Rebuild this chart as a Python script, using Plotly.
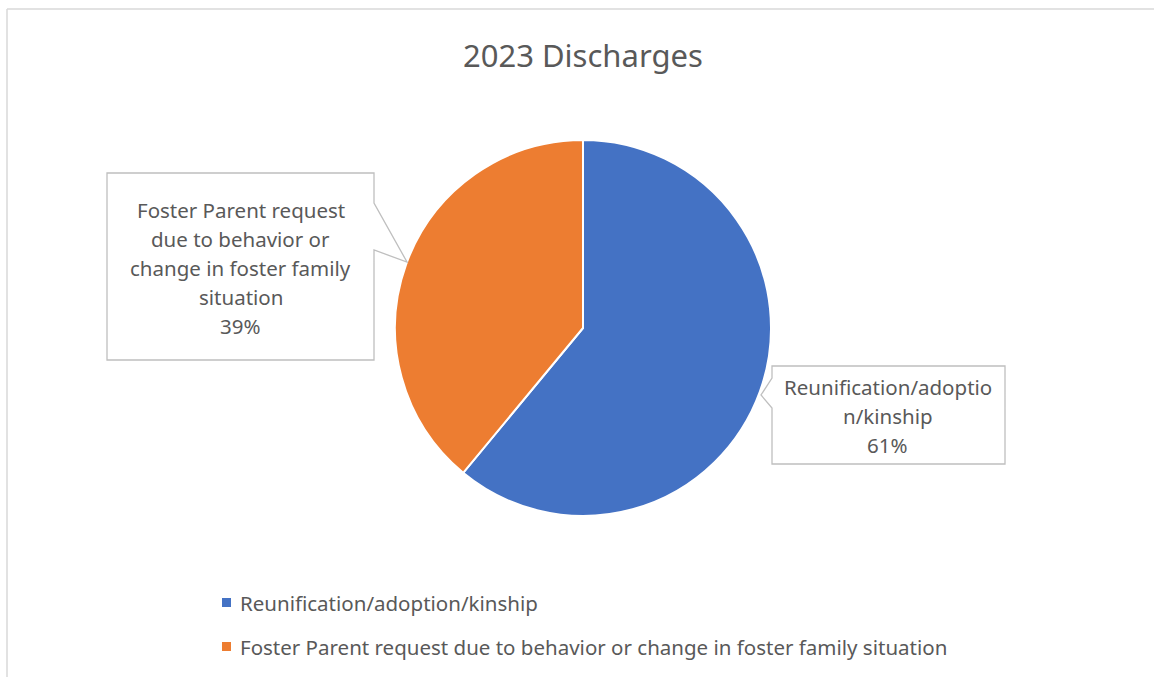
import plotly.graph_objects as go

# Discharge reasons for 2023 and their share of all discharges
categories = [
    "Reunification/adoption/kinship",
    "Foster Parent request due to behavior or change in foster family situation",
]
values = [61, 39]
colors = ["#4472C4", "#ED7D31"]

# Wrapped wording used inside the callout boxes
callout_lines = [
    ["Reunification/adoptio", "n/kinship"],
    ["Foster Parent request", "due to behavior or", "change in foster family", "situation"],
]

title_text = "2023 Discharges"

W, H = 1154, 677
FONT = "Noto Sans"
TEXT_COLOR = "#595959"


def px(x):
    return x / W


def py(y):
    return 1 - y / H


# Pie geometry in pixels
cx, cy, r = 583, 328, 188

fig = go.Figure(
    go.Pie(
        labels=categories,
        values=values,
        marker=dict(colors=colors, line=dict(color="white", width=2)),
        sort=False,
        direction="clockwise",
        rotation=0,
        textinfo="none",
        hoverinfo="label+percent",
        showlegend=False,
        domain=dict(x=[px(cx - r), px(cx + r)], y=[py(cy + r), py(cy - r)]),
    )
)

total = sum(values)
pct = [round(100 * v / total) for v in values]

shapes = []
annotations = []

# Callout boxes: outline, pointer base on one side, pointer tip, text centre
boxes = [
    dict(l=772, t=366, r=1005, b=464, side="left", p0=378, p1=408, tx=761, ty=395, cx=888, y0=387),
    dict(l=107, t=173, r=374, b=360, side="right", p0=203, p1=250, tx=407, ty=262, cx=241, y0=210),
]
line_h = 29

for i, bx in enumerate(boxes):
    l, t, rr, b = bx["l"], bx["t"], bx["r"], bx["b"]
    if bx["side"] == "left":
        pts = [(l, t), (rr, t), (rr, b), (l, b), (l, bx["p1"]), (bx["tx"], bx["ty"]), (l, bx["p0"])]
    else:
        pts = [(l, t), (rr, t), (rr, bx["p0"]), (bx["tx"], bx["ty"]), (rr, bx["p1"]), (rr, b), (l, b)]
    path = "M " + " L ".join(f"{px(x):.5f},{py(y):.5f}" for x, y in pts) + " Z"
    shapes.append(dict(type="path", xref="paper", yref="paper", path=path,
                       line=dict(color="#BFBFBF", width=1.3), fillcolor="white"))
    lines = callout_lines[i] + [f"{pct[i]}%"]
    for k, txt in enumerate(lines):
        annotations.append(dict(
            x=px(bx["cx"]), y=py(bx["y0"] + k * line_h), xref="paper", yref="paper",
            text=txt, showarrow=False, xanchor="center", yanchor="middle",
            font=dict(family=FONT, size=20.5, color=TEXT_COLOR),
        ))

# Legend entries
leg_x, leg_y0, leg_gap = 226.5, 602.5, 44
for i, (name, col) in enumerate(zip(categories, colors)):
    yy = leg_y0 + i * leg_gap
    shapes.append(dict(type="rect", xref="paper", yref="paper",
                       x0=px(leg_x - 4.5), x1=px(leg_x + 4.5), y0=py(yy + 4.5), y1=py(yy - 4.5),
                       line=dict(width=0), fillcolor=col))
    annotations.append(dict(
        x=px(238), y=py(yy), xref="paper", yref="paper", text=name, showarrow=False,
        xanchor="left", yanchor="middle", font=dict(family=FONT, size=20.5, color=TEXT_COLOR),
    ))

# Title
annotations.append(dict(
    x=px(583), y=py(55), xref="paper", yref="paper", text=title_text, showarrow=False,
    xanchor="center", yanchor="middle", font=dict(family=FONT, size=31, color=TEXT_COLOR),
))

# Chart area frame (left and top edges)
shapes.append(dict(type="line", xref="paper", yref="paper", x0=px(7), x1=px(7), y0=0, y1=py(9),
                   line=dict(color="#D9D9D9", width=1.5)))
shapes.append(dict(type="line", xref="paper", yref="paper", x0=px(7), x1=1, y0=py(9), y1=py(9),
                   line=dict(color="#D9D9D9", width=1.5)))

fig.update_layout(
    width=W, height=H,
    margin=dict(l=0, r=0, t=0, b=0),
    paper_bgcolor="white", plot_bgcolor="white",
    shapes=shapes, annotations=annotations,
)

fig.write_html("out.html")
